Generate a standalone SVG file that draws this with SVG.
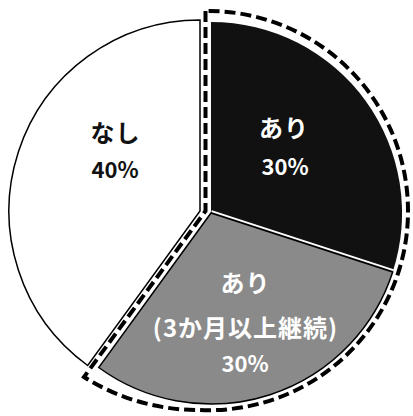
<svg xmlns="http://www.w3.org/2000/svg" width="413" height="416" viewBox="0 0 413 416">
<style>
.lbl{font-family:"Noto Sans CJK JP","Noto Sans",sans-serif;font-weight:bold;text-anchor:middle}
.jp{font-size:24px;letter-spacing:1px}
.pc{font-size:22px}
.dk{fill:#111}
.lt{fill:#fff}
.edge{stroke:#000;stroke-width:1.5;stroke-linejoin:miter}
</style>
<rect width="413" height="416" fill="#fff"/>
<g id="slice-nashi">
<path class="edge" d="M200,211 L200,20 A191,191 0 0 0 87.7,365.5 Z" fill="#fff"/>
<text class="lbl jp dk" x="115.5" y="142">なし</text>
<text class="lbl pc dk" x="115" y="178">40%</text>
</g>
<g id="slice-ari">
<path d="M211,213 L211,22 A191,191 0 0 1 392.7,272 Z" fill="#111"/>
<text class="lbl jp lt" x="284" y="136.5">あり</text>
<text class="lbl pc lt" x="285" y="175">30%</text>
</g>
<g id="slice-ari-3m">
<path class="edge" d="M211,213 L392.7,272 A191,191 0 0 1 98.7,367.5 Z" fill="#8a8a8a"/>
<line x1="211.6" y1="211.1" x2="393.3" y2="270.1" stroke="#fff" stroke-width="2"/>
<text class="lbl jp lt" x="245.5" y="291.5">あり</text>
<text class="lbl jp lt" x="245.5" y="336.5">(3か月以上継続)</text>
<text class="lbl pc lt" x="245" y="372">30%</text>
</g>
<g id="connectors">
<path id="ari-outline" d="M205.5,11 L205.5,211 L84,377 A215,215 0 0 0 200,410 A199,199 0 0 0 408,212 A200,200 0 0 0 205.5,11 Z" fill="none" stroke="#000" stroke-width="4" stroke-dasharray="11 5"/>
</g>
</svg>
